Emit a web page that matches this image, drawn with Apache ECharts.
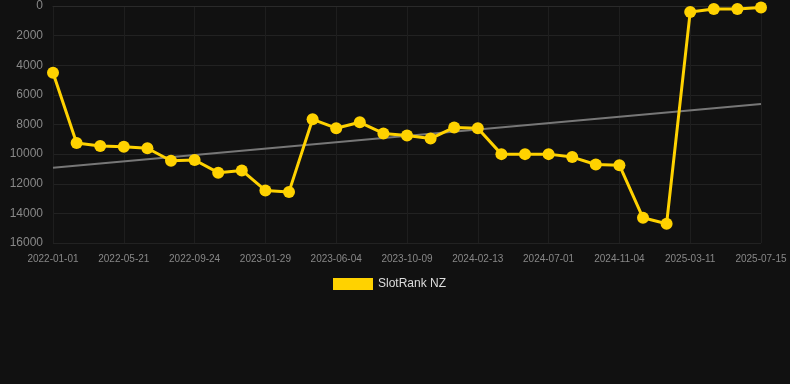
<!DOCTYPE html>
<html>
<head>
<meta charset="utf-8">
<script src="https://cdn.jsdelivr.net/npm/echarts@6/dist/echarts.min.js"></script>
<style>
	html, body { margin: 0; padding: 0; background: #111111; }
	#chart { width: 790px; height: 384px; }
</style>
</head>
<body>
<div id="chart"></div>
<script>
	// dates on the x axis (one per sample)
	const dates = [
		"2022-01-01", "2022-02-16", "2022-04-04", "2022-05-21", "2022-07-02",
		"2022-08-13", "2022-09-24", "2022-11-05", "2022-12-17", "2023-01-29",
		"2023-03-12", "2023-04-23", "2023-06-04", "2023-07-16", "2023-08-27",
		"2023-10-09", "2023-11-20", "2024-01-01", "2024-02-13", "2024-03-28",
		"2024-05-14", "2024-07-01", "2024-08-12", "2024-09-23", "2024-11-04",
		"2024-12-16", "2025-01-27", "2025-03-11", "2025-04-22", "2025-06-03",
		"2025-07-15"
	];

	// rank values
	const rankNZ = [
		4500, 9250, 9450, 9500, 9600, 10450, 10400, 11250, 11100, 12450,
		12550, 7650, 8250, 7850, 8600, 8750, 8950, 8200, 8250, 10000,
		10000, 10000, 10200, 10700, 10750, 14300, 14700, 400, 200, 200,
		100
	];

	// trend line end points
	const trendStart = 10920;
	const trendEnd = 6610;

	const yTicks = [0, 2000, 4000, 6000, 8000, 10000, 12000, 14000, 16000];

	const chart = echarts.init(document.getElementById("chart"));

	chart.setOption({
		backgroundColor: "#111111",
		animation: false,
		grid: {
			left: 53,
			right: 29,
			top: 6,
			bottom: 141
		},
		legend: {
			data: [{ name: "SlotRank NZ", icon: "rect" }],
			top: 273,
			left: 328,
			itemWidth: 40,
			itemHeight: 12,
			itemGap: 6,
			textStyle: { color: "#dddddd", fontSize: 12, fontFamily: "Arial, Liberation Sans, sans-serif" }
		},
		xAxis: {
			type: "category",
			data: dates,
			boundaryGap: false,
			axisLine: { show: true, lineStyle: { color: "#2a2a2a" } },
			axisTick: { show: false },
			axisLabel: {
				interval: 2,
				color: "#888888",
				fontSize: 10,
				margin: 11,
				fontFamily: "Arial, Liberation Sans, sans-serif"
			},
			splitLine: {
				show: true,
				interval: 2,
				lineStyle: { color: "#1e1e1e", width: 1 }
			}
		},
		yAxis: {
			type: "value",
			inverse: true,
			min: yTicks[0],
			max: yTicks[yTicks.length - 1],
			interval: 2000,
			axisLine: { show: false },
			axisTick: { show: false },
			axisLabel: {
				color: "#888888",
				fontSize: 12,
				margin: 10,
				formatter: v => String(v),
				fontFamily: "Arial, Liberation Sans, sans-serif"
			},
			splitLine: {
				lineStyle: { color: "#222222", width: 1 }
			}
		},
		series: [
			{
				name: "SlotRank NZ",
				type: "line",
				data: rankNZ,
				symbol: "circle",
				symbolSize: 12,
				itemStyle: { color: "#ffd200" },
				lineStyle: { width: 3, color: "#ffd200" },
				z: 3
			},
			{
				name: "trend",
				type: "line",
				data: [[0, trendStart], [dates.length - 1, trendEnd]],
				symbol: "none",
				lineStyle: { width: 2, color: "#777777" },
				z: 2
			}
		]
	});
</script>
</body>
</html>
